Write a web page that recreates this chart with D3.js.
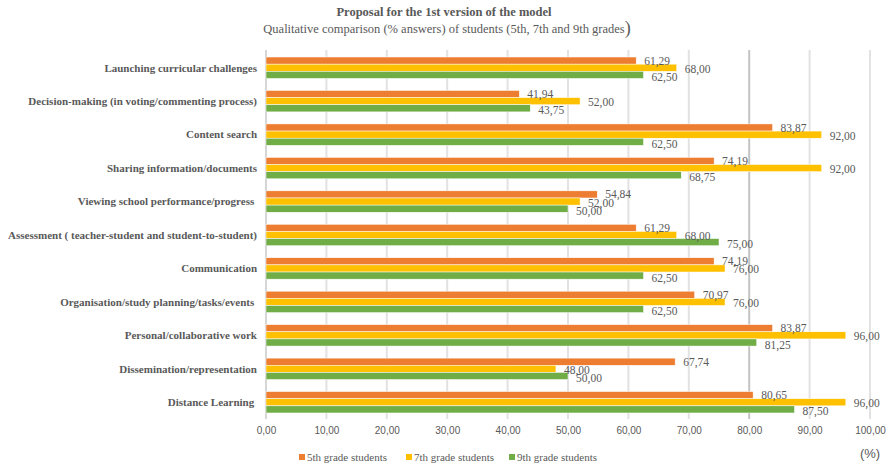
<!DOCTYPE html>
<html>
<head>
<meta charset="utf-8">
<script src="https://cdn.jsdelivr.net/npm/d3@7/dist/d3.min.js"></script>
<style>
  html, body { margin: 0; padding: 0; background: #fff; }
  svg { display: block; }
</style>
</head>
<body>
<svg id="chart" width="888" height="467"></svg>
<script>
// ---- data ----
const categories = [
  "Launching curricular challenges",
  "Decision-making (in voting/commenting process)",
  "Content search",
  "Sharing information/documents",
  "Viewing school performance/progress ",
  "Assessment ( teacher-student and student-to-student)",
  "Communication",
  "Organisation/study planning/tasks/events ",
  "Personal/collaborative work",
  "Dissemination/representation",
  "Distance Learning "
];
const seriesNames = ["5th grade students", "7th grade students", "9th grade students"];
const grade5 = [61.29, 41.94, 83.87, 74.19, 54.84, 61.29, 74.19, 70.97, 83.87, 67.74, 80.65];
const grade7 = [68.00, 52.00, 92.00, 92.00, 52.00, 68.00, 76.00, 76.00, 96.00, 48.00, 96.00];
const grade9 = [62.50, 43.75, 62.50, 68.75, 50.00, 75.00, 62.50, 62.50, 81.25, 50.00, 87.50];
const xTicks = [0, 10, 20, 30, 40, 50, 60, 70, 80, 90, 100];
const colors = ["#ED7D31", "#FFC000", "#70AD47"];

const series = [grade5, grade7, grade9];
const svg = d3.select("#chart");
const gray = "#595959";
const serif = "'Liberation Serif', 'Times New Roman', serif";
const sans = "'Liberation Sans', Arial, sans-serif";

const x = d3.scaleLinear().domain([0, 100]).range([266, 870]);
const y = d3.scaleBand().domain(categories).range([51, 419]).paddingInner(0.36).paddingOuter(0.18);
const ySub = d3.scaleBand().domain([0, 1, 2]).range([0, y.bandwidth()]);

// title
svg.append("text").attr("x", 444).attr("y", 16).attr("text-anchor", "middle")
  .attr("font-family", serif).attr("font-weight", "bold").attr("font-size", 12.5)
  .attr("fill", gray).text("Proposal for the 1st version of the model");
const sub = svg.append("text").attr("x", 447).attr("y", 33).attr("text-anchor", "middle")
  .attr("font-family", serif).attr("font-size", 12.5).attr("fill", gray);
sub.append("tspan").text("Qualitative comparison (% answers) of students (5th, 7th and 9th grades");
sub.append("tspan").attr("font-size", 18).attr("dy", 1).text(")");

// gridlines
svg.append("g").selectAll("line").data(xTicks.filter(d => d > 0)).join("line")
  .attr("x1", d => x(d)).attr("x2", d => x(d))
  .attr("y1", 50).attr("y2", 419)
  .attr("stroke", d => d === 80 ? "#c4c4c4" : "#e2e2e2")
  .attr("stroke-width", 2);

// axis tick labels
const xAxis = d3.axisBottom(x).tickValues(xTicks).tickSize(0)
  .tickFormat(d => d3.format(".2f")(d).replace(".", ","));
const gx = svg.append("g").attr("transform", "translate(0,424)").call(xAxis);
gx.select(".domain").remove();
gx.selectAll("text").attr("font-family", sans).attr("font-size", 10).attr("fill", gray);

// category labels
svg.append("g").selectAll("text").data(categories).join("text")
  .attr("x", 257).attr("y", d => y(d) + y.bandwidth() / 2).attr("dy", "0.35em")
  .attr("text-anchor", "end").attr("font-family", serif).attr("font-weight", "bold")
  .attr("font-size", 11).attr("fill", gray).style("white-space", "pre").text(d => d);

// axis line at 0
svg.append("line").attr("x1", x(0)).attr("x2", x(0)).attr("y1", 50).attr("y2", 419)
  .attr("stroke", "#d6d6d6").attr("stroke-width", 2);

// bars
const groups = svg.append("g").selectAll("g").data(categories).join("g")
  .attr("transform", d => `translate(0,${y(d)})`);
groups.selectAll("rect").data((d, i) => series.map((s, k) => ({ k, v: s[i] }))).join("rect")
  .attr("x", x(0)).attr("y", d => ySub(d.k)).attr("height", ySub.bandwidth())
  .attr("width", d => x(d.v) - x(0)).attr("fill", d => colors[d.k])
  .attr("stroke", "#fff").attr("stroke-width", 0.5);
groups.selectAll("text").data((d, i) => series.map((s, k) => ({ k, v: s[i] }))).join("text")
  .attr("x", d => x(d.v) + 8).attr("y", d => ySub(d.k) + ySub.bandwidth() / 2 + (d.k === 0 ? 0 : d.k === 1 ? 1 : 2))
  .attr("dy", "0.35em").attr("font-family", serif).attr("font-size", 11.5).attr("fill", gray)
  .text(d => d3.format(".2f")(d.v).replace(".", ","));

// legend
const legendX = [299, 406, 509];
const lg = svg.append("g").selectAll("g").data(seriesNames).join("g")
  .attr("transform", (d, i) => `translate(${legendX[i]},457)`);
lg.append("rect").attr("x", 0).attr("y", -3).attr("width", 6).attr("height", 6)
  .attr("fill", (d, i) => colors[i]);
lg.append("text").attr("x", 8).attr("dy", "0.35em").attr("font-family", serif)
  .attr("font-size", 11).attr("fill", gray).text(d => d);

svg.append("text").attr("x", 870).attr("y", 453).attr("dy", "0.35em").attr("text-anchor", "middle")
  .attr("font-family", sans).attr("font-size", 13).attr("fill", gray).text("(%)");
</script>
</body>
</html>
